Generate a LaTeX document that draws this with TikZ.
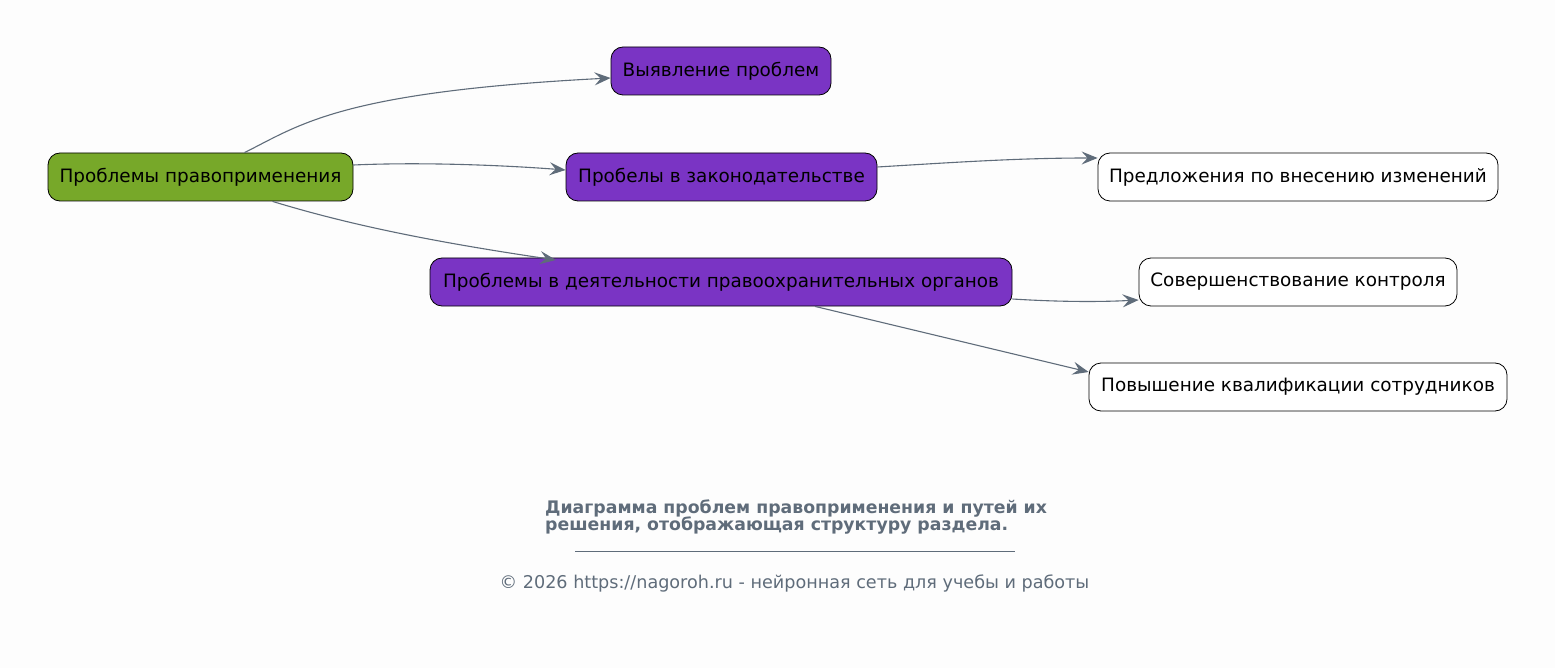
\documentclass[tikz,border=0pt]{standalone}
\usepackage{fontspec}
\setmainfont{DejaVu Sans}
\usetikzlibrary{arrows.meta}
\definecolor{bgcol}{RGB}{253,253,253}
\definecolor{rootcol}{RGB}{119,168,41}
\definecolor{midcol}{RGB}{122,52,196}
\definecolor{linkcol}{RGB}{95,108,122}
\begin{document}
\begin{tikzpicture}[x=1pt,y=-1pt]
        \tikzset{box/.style = {draw=black,line width=0.8pt,rounded corners=12pt,minimum height=48pt,inner sep=0pt,font=\fontsize{18.4}{22}\selectfont}}
        \tikzset{leaf/.style = {box,fill=white}}
        \tikzset{link/.style = {draw=linkcol,line width=1.1pt,-{Stealth[length=16pt,width=13pt,inset=6pt]}}}
        \fill[bgcol] (0,0) rectangle (1555,668);
        \useasboundingbox (0,0) rectangle (1555,668);
        % root
        \node[box,fill=rootcol,minimum width=305pt] (root) at (200.5,177) {Проблемы правоприменения};
        % middle column
        \node[box,fill=midcol,minimum width=220pt] (find) at (721,71) {Выявление проблем};
        \node[box,fill=midcol,minimum width=311pt] (gaps) at (721.5,177) {Пробелы в законодательстве};
        \node[box,fill=midcol,minimum width=582pt] (organs) at (721,282) {Проблемы в деятельности правоохранительных органов};
        % right column
        \node[leaf,minimum width=400pt] (offer) at (1298,177) {Предложения по внесению изменений};
        \node[leaf,minimum width=318pt] (control) at (1298,282) {Совершенствование контроля};
        \node[leaf,minimum width=418pt] (skill) at (1298,387) {Повышение квалификации сотрудников};
        % edges
        \draw[link] (root.north) ++(44,0) coordinate (r1) (r1) .. controls (300,125) and (340,92) .. (find.west |- 0,78);
        \draw[link] (root.east |- 0,165) .. controls (420,162) and (500,165) .. (gaps.west |- 0,170);
        \draw[link] (root.south) ++(72,0) coordinate (r3) (r3) .. controls (340,222) and (420,240) .. (556,260);
        \draw[link] (gaps.east |- 0,167) .. controls (960,162) and (1020,158) .. (offer.west |- 0,158);
        \draw[link] (organs.east |- 0,299) .. controls (1060,302) and (1100,302) .. (control.west |- 0,300);
        \draw[link] (organs.south) ++(94,0) coordinate (o3) (o3) -- (skill.west |- 0,372);
        % caption
        \node[anchor=north west,align=left,text=linkcol,font=\fontsize{17.3}{17.5}\selectfont\bfseries,inner sep=0pt] (cap) at (545,499.5) {Диаграмма проблем правоприменения и путей их\\решения, отображающая структуру раздела.};
        \coordinate (ruleA) at (575,551);
        \coordinate (ruleB) at (1015,551);
        \draw[linkcol,line width=0.6pt] (ruleA) -- (ruleB);
        \node[text=linkcol,font=\fontsize{17.6}{20}\selectfont] (copy) at (794.5,583.5) {© 2026 https://nagoroh.ru - нейронная сеть для учебы и работы};
\end{tikzpicture}
\end{document}
